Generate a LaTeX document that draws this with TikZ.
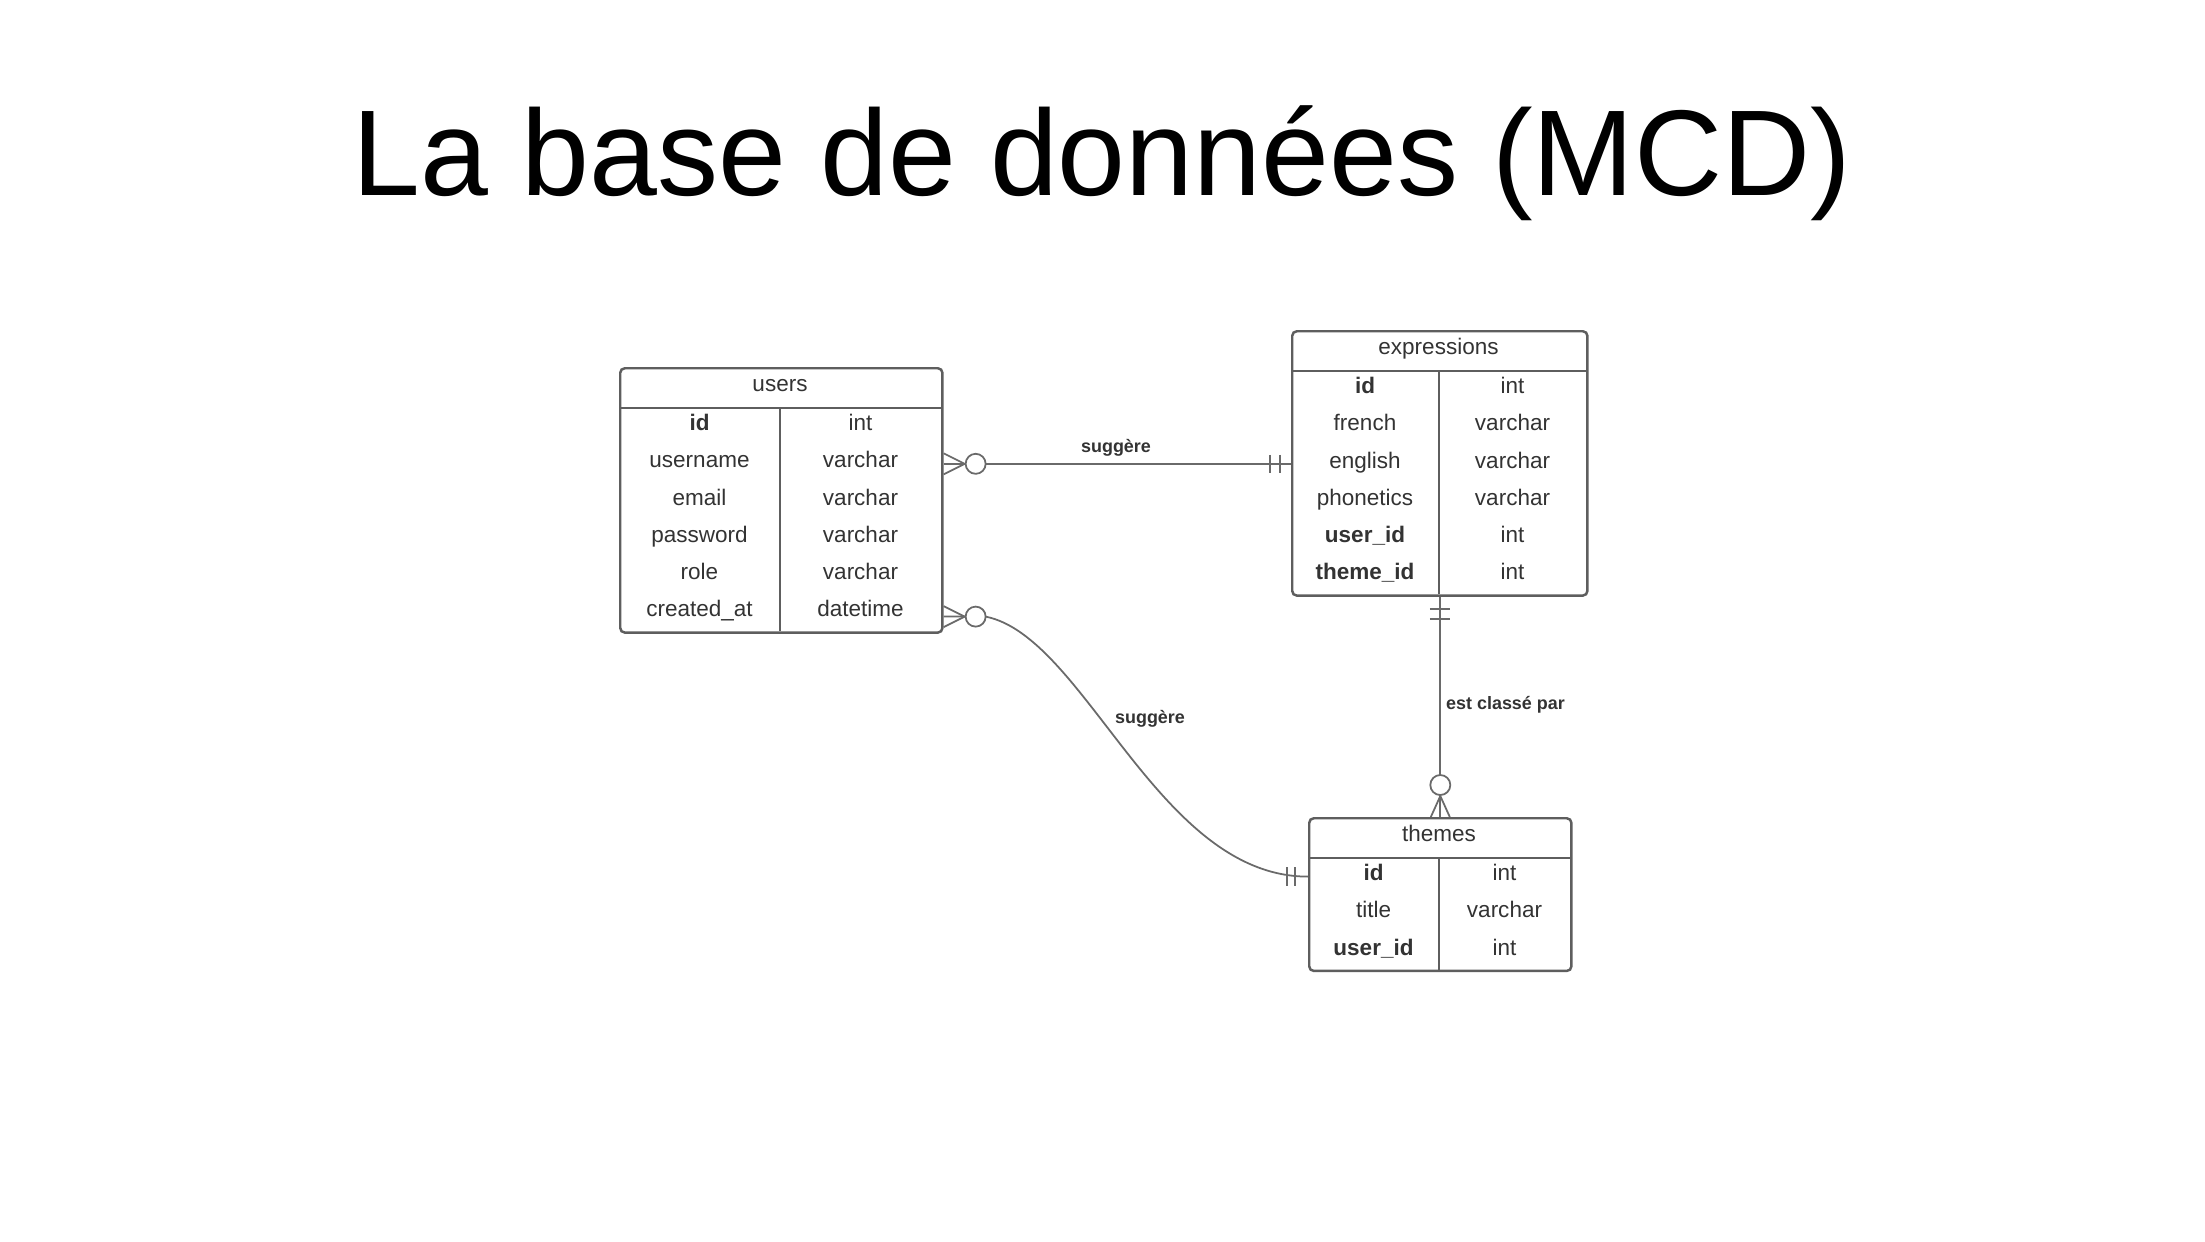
\documentclass[tikz,border=0pt]{standalone}
\usepackage{fontspec}
\setmainfont{Liberation Sans}

\definecolor{erline}{HTML}{5E5E5E}
\definecolor{erlink}{HTML}{6A6A6A}
\definecolor{ertext}{HTML}{333333}

\tikzset{
    tablebox/.style={draw=erline, line width=0.7pt, rounded corners=1.3pt, inner sep=0, anchor=north west},
    tableline/.style={draw=erline, line width=0.7pt},
    cell/.style={text=ertext, inner sep=0, text height=4.6pt, text depth=2.3pt, font=\fontsize{6.4}{7}\selectfont},
    key/.style={cell, font=\fontsize{6.4}{7}\selectfont\bfseries},
    link/.style={draw=erlink, line width=0.5pt},
    linklabel/.style={text=ertext, inner sep=0, anchor=base, font=\fontsize{5.1}{6}\selectfont\bfseries},
}

\begin{document}
\begin{tikzpicture}[x=0.01cm, y=-0.01cm]
        \def \rh {37.2}

        \fill[white] (0,0) rectangle (2205,1241);
        \useasboundingbox (0,0) rectangle (2205,1241);

        \node[anchor=base, font=\fontsize{34.7}{40}\selectfont] (title) at (1102,195) {La base de données (MCD)};

        % users
        \node[tablebox, minimum width=3.22cm, minimum height=2.642cm] (users) at (619,367) {};
        \draw[tableline] (619,408) -- (941,408);
        \draw[tableline] (780,408) -- (780,631.2);
        \node[cell] (uhead) at (780,387.5) {users};

        \node[key]  (uid)   at (699.5,408+0.5*\rh) {id};
        \node[cell] (uname) at (699.5,408+1.5*\rh) {username};
        \node[cell] (umail) at (699.5,408+2.5*\rh) {email};
        \node[cell] (upass) at (699.5,408+3.5*\rh) {password};
        \node[cell] (urole) at (699.5,408+4.5*\rh) {role};
        \node[cell] (ucrea) at (699.5,408+5.5*\rh) {created\_at};

        \node[cell] (uidt)   at (860.5,408+0.5*\rh) {int};
        \node[cell] (unamet) at (860.5,408+1.5*\rh) {varchar};
        \node[cell] (umailt) at (860.5,408+2.5*\rh) {varchar};
        \node[cell] (upasst) at (860.5,408+3.5*\rh) {varchar};
        \node[cell] (urolet) at (860.5,408+4.5*\rh) {varchar};
        \node[cell] (ucreat) at (860.5,408+5.5*\rh) {datetime};

        % expressions
        \node[tablebox, minimum width=2.95cm, minimum height=2.642cm] (expr) at (1291,330) {};
        \draw[tableline] (1291,371) -- (1586,371);
        \draw[tableline] (1439,371) -- (1439,594.2);
        \node[cell] (ehead) at (1438.5,350.5) {expressions};

        \node[key]  (eid)    at (1365,371+0.5*\rh) {id};
        \node[cell] (efr)    at (1365,371+1.5*\rh) {french};
        \node[cell] (eeng)   at (1365,371+2.5*\rh) {english};
        \node[cell] (ephon)  at (1365,371+3.5*\rh) {phonetics};
        \node[key]  (euser)  at (1365,371+4.5*\rh) {user\_id};
        \node[key]  (etheme) at (1365,371+5.5*\rh) {theme\_id};

        \node[cell] (eidt)    at (1512.5,371+0.5*\rh) {int};
        \node[cell] (efrt)    at (1512.5,371+1.5*\rh) {varchar};
        \node[cell] (eengt)   at (1512.5,371+2.5*\rh) {varchar};
        \node[cell] (ephont)  at (1512.5,371+3.5*\rh) {varchar};
        \node[cell] (eusert)  at (1512.5,371+4.5*\rh) {int};
        \node[cell] (ethemet) at (1512.5,371+5.5*\rh) {int};

        % themes
        \node[tablebox, minimum width=2.62cm, minimum height=1.526cm] (themes) at (1308,817) {};
        \draw[tableline] (1308,858) -- (1570,858);
        \draw[tableline] (1439,858) -- (1439,969.6);
        \node[cell] (thead) at (1439,837.5) {themes};

        \node[key]  (tid)    at (1373.5,858+0.5*\rh) {id};
        \node[cell] (ttitle) at (1373.5,858+1.5*\rh) {title};
        \node[key]  (tuser)  at (1373.5,858+2.5*\rh) {user\_id};

        \node[cell] (tidt)    at (1504.5,858+0.5*\rh) {int};
        \node[cell] (ttitlet) at (1504.5,858+1.5*\rh) {varchar};
        \node[cell] (tusert)  at (1504.5,858+2.5*\rh) {int};

        % users -- expressions
        \draw[link] (users.east |- uname) -- (expr.west |- uname);
        \draw[link] (users.east |- uname) ++(0,-10.5) -- ++(21,10.5) -- ++(-21,10.5);
        \draw[link, fill=white] (users.east |- uname) ++(32,0) circle[radius=1mm];
        \draw[link] (expr.west |- uname) ++(-21,-9) -- ++(0,18);
        \draw[link] (expr.west |- uname) ++(-11,-9) -- ++(0,18);
        \node[linklabel] (sugg1) at (1116,452) {suggère};

        % users -- themes
        \draw[link] (users.east |- ucrea) ++(0,4) -- ++(42,0) .. controls +(100,20) and +(-150,0) .. (themes.west |- tid);
        \draw[link] (users.east |- ucrea) ++(0,-6.5) -- ++(21,10.5) -- ++(-21,10.5);
        \draw[link, fill=white] (users.east |- ucrea) ++(32,4) circle[radius=1mm];
        \draw[link] (themes.west |- tid) ++(-21,-9.5) -- ++(0,19);
        \draw[link] (themes.west |- tid) ++(-13,-9.5) -- ++(0,19);
        \node[linklabel] (sugg2) at (1150,723) {suggère};

        % expressions -- themes
        \draw[link] (expr.south) -- (expr.south |- themes.north);
        \draw[link] (expr.south) ++(-10,12) -- ++(20,0);
        \draw[link] (expr.south) ++(-10,22) -- ++(20,0);
        \draw[link] (themes.north) ++(-9.5,0) -- ++(9.5,-21) -- ++(9.5,21);
        \draw[link, fill=white] (themes.north) ++(0,-32) circle[radius=1mm];
        \node[linklabel] (classe) at (1505.5,709) {est classé par};
    \end{tikzpicture}
\end{document}
